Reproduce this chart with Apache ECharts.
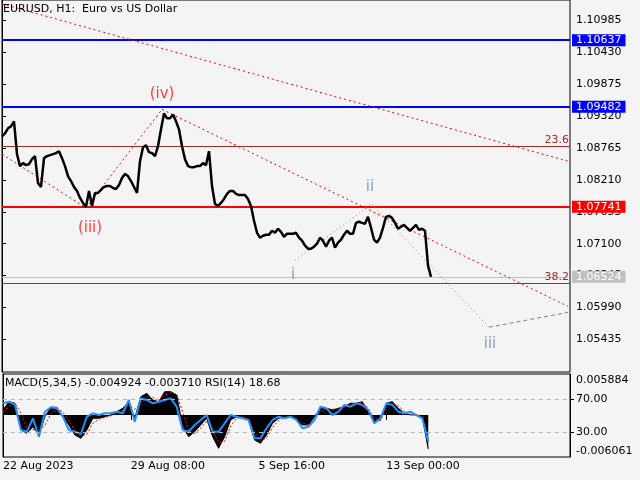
<!DOCTYPE html>
<html><head><meta charset="utf-8">
<script src="https://cdn.jsdelivr.net/npm/echarts@6/dist/echarts.min.js"></script>
<style>html,body{margin:0;padding:0;background:#f4f4f4;}#c{width:640px;height:480px;}</style>
</head><body><div id="c"></div>
<script>
// ---------- data ----------
const symbolTitle = 'EURUSD, H1:  Euro vs US Dollar';
const barStep = 3;            // hours between price samples
const closes = [
1.08967,1.09019,1.09106,1.09140,1.09227,1.08656,1.08449,1.08501,1.08466,1.08483,
1.08570,1.08622,1.08155,1.08086,1.08587,1.08622,1.08639,1.08656,1.08674,1.08708,
1.08587,1.08449,1.08276,1.08189,1.08086,1.08017,1.07895,1.07809,1.07740,1.08017,
1.07757,1.07982,1.07982,1.08034,1.08086,1.08103,1.08103,1.08069,1.08051,1.08120,
1.08241,1.08311,1.08276,1.08189,1.08086,1.07982,1.08535,1.08777,1.08812,1.08691,
1.08674,1.08622,1.08795,1.09088,1.09365,1.09279,1.09279,1.09347,1.09227,1.09088,
1.08795,1.08570,1.08449,1.08431,1.08431,1.08449,1.08449,1.08501,1.08466,1.08708,
1.08103,1.07791,1.07757,1.07809,1.07878,1.07965,1.08017,1.08017,1.07965,1.07947,
1.07947,1.07947,1.07878,1.07757,1.07498,1.07290,1.07204,1.07238,1.07256,1.07256,
1.07325,1.07290,1.07359,1.07307,1.07221,1.07273,1.07273,1.07273,1.07290,1.07204,
1.07152,1.07066,1.07013,1.07013,1.07048,1.07100,1.07204,1.07152,1.07048,1.07152,
1.07204,1.07031,1.07117,1.07169,1.07256,1.07325,1.07273,1.07273,1.07463,1.07481,
1.07463,1.07446,1.07567,1.07377,1.07169,1.07117,1.07204,1.07377,1.07567,1.07584,
1.07549,1.07463,1.07359,1.07394,1.07429,1.07377,1.07325,1.07377,1.07429,1.07342,
1.07359,1.07325,1.06720,1.06524];
const priceTicks = [1.10985,1.10430,1.09875,1.09320,1.08765,1.08210,1.07655,1.07100,1.06545,1.05990,1.05435];
const priceRange = [1.04870, 1.11336];
const barRange = [0, 568];
const dateBars = [0,128,256,384];
const dateLabels = ['22 Aug 2023','29 Aug 08:00','5 Sep 16:00','13 Sep 00:00'];
const blueLevels = [1.10637, 1.09482];
const redLevels = [1.07741];
const bidLevel = [1.06524];
const fiboValues = [1.08795, 1.06409];
const fiboNames = ['23.6','38.2'];
const trendTop = [[0,1.11267],[566,1.08535]];
const trendFall = [[160,1.09434],[566,1.06011]];
const waveBig = [[0,1.08656],[84,1.07723],[160,1.09434]];
const waveSmall = [[293,1.06806],[370,1.07791],[487,1.05648]];
const waveProj = [[487,1.05648],[566,1.05907]];
const waveNames = ['(iii)','(iv)','i','ii','iii'];
const wavePos = [[88,1.07377],[160,1.09694],[291,1.06547],[368,1.08086],[488,1.05354]];

const macdStep = 6;
const macdHist = [0.00071,0.00190,0.00167,-0.00217,-0.00265,-0.00170,-0.00289,-0.00026,0.00109,0.00109,
-0.00026,-0.00145,-0.00289,-0.00337,-0.00217,-0.00049,-0.00049,-0.00026,0,0.00046,
0.00095,0.00190,-0.00049,0.00262,0.00311,0.00214,0.00190,0.00334,0.00334,0.00286,
-0.00170,-0.00314,-0.00242,-0.00145,-0.00049,-0.00314,-0.00481,-0.00314,-0.00073,-0.00026,
-0.00026,-0.00073,-0.00361,-0.00409,-0.00289,-0.00121,-0.00049,-0.00026,-0.00026,-0.00073,
-0.00145,-0.00145,-0.00026,0.00095,0.00095,0.00071,0.00095,0.00118,0.00167,0.00167,
0.00190,0.00046,-0.00098,-0.00073,0.00167,0.00190,0.00095,0.00023,0,0,
-0.00026,-0.004924];
const macdSignal = [0.00050,0.00120,0.00170,0.00020,-0.00190,-0.00210,-0.00240,-0.00150,0.00020,0.00090,
0.00040,-0.00090,-0.00220,-0.00310,-0.00280,-0.00120,-0.00060,-0.00040,-0.00015,0.00020,
0.00070,0.00140,0.00080,0.00150,0.00260,0.00250,0.00210,0.00280,0.00320,0.00300,
0.00040,-0.00230,-0.00270,-0.00190,-0.00090,-0.00220,-0.00400,-0.00380,-0.00160,-0.00050,
-0.00030,-0.00060,-0.00250,-0.00380,-0.00330,-0.00180,-0.00080,-0.00040,-0.00030,-0.00060,
-0.00120,-0.00140,-0.00070,0.00050,0.00090,0.00080,0.00090,0.00110,0.00150,0.00165,
0.00180,0.00090,-0.00050,-0.00080,0.00080,0.00170,0.00130,0.00050,0.00010,0,
-0.00020,-0.003710];
const rsi = [64.7,66.6,62.7,32.5,30.5,46.6,24.5,54.6,59.9,58.7,
48.6,32.5,30.5,27.7,48.6,52.7,50.6,52.7,52.7,54.6,
52.7,68.7,42.5,70.7,68.7,64.7,66.6,68.7,70.7,60.6,
32.5,30.5,38.6,44.6,50.6,30.5,30.5,40.6,50.6,48.6,
46.6,44.6,22.5,22.5,34.6,44.6,48.6,46.6,48.6,44.6,
34.6,36.5,44.6,60.6,58.7,50.6,54.6,62.7,60.6,64.7,
62.7,56.6,40.6,46.6,64.7,62.7,54.6,52.7,54.6,50.6,
46.6,18.68];
const macdScale = [0.005884, -0.006061];
const rsiLevels = [70, 30];

// ---------- chart ----------
const FONT = 'DejaVu Sans';
const chart = echarts.init(document.getElementById('c'), null, {renderer:'canvas'});
const txt = {fontFamily: FONT, fontSize: 11, color: '#000'};
const seg = (pts) => { const out=[]; for (let i=0;i<pts.length-1;i++) out.push([{coord:pts[i]},{coord:pts[i+1]}]); return out; };
const styled = (pairs, ls) => pairs.map(p => [{coord:p[0].coord, lineStyle:ls}, {coord:p[1].coord}]);

const hLine = (v, color, width, bg) => ({
  yAxis: v,
  lineStyle: {color, width, type: 'solid'},
  label: {show: true, position: 'end', distance: 2, formatter: () => v.toFixed(5),
    backgroundColor: bg, color: '#fff', padding: [1, 4, 0, 4], fontFamily: FONT, fontSize: 11}
});

const markData = [];
blueLevels.forEach(v => markData.push(hLine(v, '#0000ff', 2, '#0000ff')));
redLevels.forEach(v => markData.push(hLine(v, '#ff0000', 2, '#ff0000')));
bidLevel.forEach(v => markData.push(hLine(v, '#c0c0c0', 1, '#c0c0c0')));
fiboValues.forEach((v, i) => markData.push({
  yAxis: v, lineStyle: {color: '#a52a2a', width: 1, type: 'solid'},
  label: {show: true, position: 'insideEndTop', distance: 1, formatter: fiboNames[i], color: '#a52a2a', fontFamily: FONT, fontSize: 11}
}));
const redDot = {color: '#ff0000', width: 1, type: [2, 3]};
const grayDot = {color: '#808080', width: 1, type: [1, 3]};
const grayDash = {color: '#808080', width: 1, type: [4, 3]};
styled(seg(trendTop), redDot).forEach(d => markData.push(d));
styled(seg(trendFall), redDot).forEach(d => markData.push(d));
styled(seg(waveBig), redDot).forEach(d => markData.push(d));
styled(seg(waveSmall), grayDot).forEach(d => markData.push(d));
styled(seg(waveProj), grayDash).forEach(d => markData.push(d));

const option = {
  backgroundColor: '#f4f4f4',
  animation: false,
  title: [
    {text: symbolTitle, left: 3, top: 4, padding: 0, textStyle: Object.assign({fontWeight: 'normal'}, txt)},
    {text: 'MACD(5,34,5) ' + macdHist[macdHist.length-1].toFixed(6) + ' ' + macdSignal[macdSignal.length-1].toFixed(6) +
           ' RSI(14) ' + rsi[rsi.length-1].toFixed(2), left: 5, top: 378, padding: 0, textStyle: Object.assign({fontWeight: 'normal'}, txt)}
  ],
  grid: [
    {left: 2, right: 70, top: -2, height: 374, show: true, borderColor: '#000', borderWidth: 1, backgroundColor: 'transparent'},
    {left: 2, right: 70, top: 374, height: 83, show: true, borderColor: '#000', borderWidth: 1, backgroundColor: 'transparent'}
  ],
  xAxis: [
    {gridIndex: 0, type: 'value', min: barRange[0], max: barRange[1], show: false},
    {gridIndex: 1, type: 'value', min: barRange[0], max: barRange[1],
      axisLine: {show: false}, splitLine: {show: false},
      axisTick: {show: true, customValues: dateBars, length: 5, lineStyle: {color: '#000'}},
      axisLabel: Object.assign({customValues: dateBars, formatter: (v) => dateLabels[dateBars.indexOf(v)], align: 'left', margin: 4}, txt)}
  ],
  yAxis: [
    {gridIndex: 0, type: 'value', position: 'right', min: priceRange[0], max: priceRange[1],
      axisLine: {show: true, lineStyle: {color: '#000'}}, splitLine: {show: false},
      axisTick: {show: true, customValues: priceTicks, length: 4, lineStyle: {color: '#000'}},
      axisLabel: Object.assign({customValues: priceTicks, formatter: (v) => v.toFixed(5), margin: 6}, txt)},
    {gridIndex: 1, type: 'value', position: 'right', min: macdScale[1], max: macdScale[0],
      axisLine: {show: true, lineStyle: {color: '#000'}}, splitLine: {show: false}, axisTick: {show: false},
      axisLabel: Object.assign({customValues: macdScale, margin: 6,
        formatter: (v) => (v > 0 ? '{t|' : '{b|') + v.toFixed(6) + '}',
        rich: {t: {padding: [12, 0, 0, 0], fontFamily: FONT, fontSize: 11, color: '#000'},
               b: {padding: [0, 0, 12, 0], fontFamily: FONT, fontSize: 11, color: '#000'}}}, txt)},
    {gridIndex: 1, type: 'value', position: 'right', min: 0, max: 100,
      axisLine: {show: true, lineStyle: {color: '#000'}}, splitLine: {show: false},
      axisTick: {show: true, customValues: rsiLevels, length: 4, lineStyle: {color: '#000'}},
      axisLabel: Object.assign({customValues: rsiLevels, formatter: (v) => v.toFixed(2), margin: 6}, txt)}
  ],
  series: [
    {type: 'line', xAxisIndex: 0, yAxisIndex: 0, symbol: 'none',
      data: closes.map((v, k) => [k * barStep, v]),
      lineStyle: {color: '#000', width: 2.5}, z: 5,
      markLine: {silent: true, precision: 5, symbol: ['none', 'none'], animation: false, label: {show: false}, data: markData}},
    {type: 'scatter', xAxisIndex: 0, yAxisIndex: 0, symbol: 'circle', symbolSize: 1,
      itemStyle: {color: 'rgba(0,0,0,0)'}, z: 6,
      data: wavePos.map((p, i) => ({value: p, name: waveNames[i],
        label: {show: true, position: 'inside', formatter: waveNames[i], fontFamily: FONT, fontSize: 15,
          color: waveNames[i].startsWith('(') ? '#ff1010' : '#6a8cab'}}))},
    {type: 'line', xAxisIndex: 1, yAxisIndex: 1, symbol: 'none',
      data: macdHist.map((v, j) => [j * macdStep, v]),
      lineStyle: {color: '#000', width: 1}, areaStyle: {color: '#000', opacity: 1}, z: 2},
    {type: 'line', xAxisIndex: 1, yAxisIndex: 1, symbol: 'none',
      data: macdSignal.map((v, j) => [j * macdStep, v]),
      lineStyle: {color: '#ff0000', width: 1, type: [2, 2]}, z: 3},
    {type: 'line', xAxisIndex: 1, yAxisIndex: 2, symbol: 'none',
      data: rsi.map((v, j) => [j * macdStep, v]),
      lineStyle: {color: '#1e90ff', width: 2}, z: 4,
      markLine: {silent: true, symbol: ['none', 'none'], label: {show: false},
        lineStyle: {color: '#b4b4b4', type: [4, 4], width: 1},
        data: rsiLevels.map(v => ({yAxis: v}))}}
  ]
};
chart.setOption(option);
</script></body></html>
